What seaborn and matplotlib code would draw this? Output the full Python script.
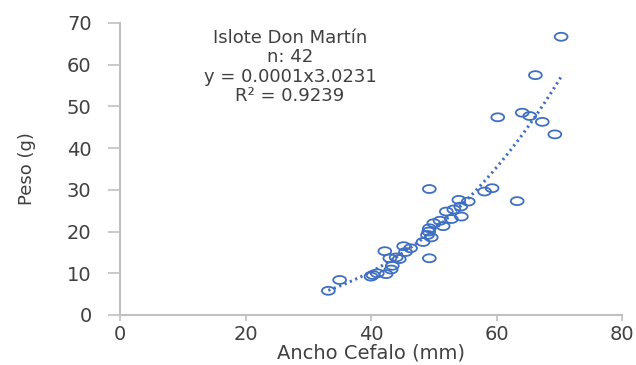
import numpy as np
import pandas as pd
import matplotlib
matplotlib.use("Agg")
import matplotlib.pyplot as plt
from matplotlib.path import Path
import seaborn as sns

# Head width (mm) and weight (g) of 42 individuals
ancho_cefalo = [33.2, 35.0, 40.0, 40.3, 41.0, 42.4, 43.2, 43.4, 42.2, 43.0,
                44.0, 44.5, 45.2, 45.5, 48.3, 49.3, 49.3, 49.0, 49.2, 49.3,
                49.6, 50.0, 51.0, 51.5, 52.0, 52.8, 54.0, 54.3, 54.4, 55.5,
                58.1, 59.3, 63.3, 60.2, 64.1, 65.3, 67.3, 69.3, 66.2, 70.3,
                53.2, 46.3]
peso = [5.8, 8.4, 9.2, 9.6, 10.0, 9.8, 10.9, 11.8, 15.3, 13.6,
        13.8, 13.4, 16.5, 15.1, 17.5, 13.6, 30.2, 19.2, 20.0, 20.8,
        18.6, 22.0, 22.6, 21.3, 24.8, 23.0, 27.6, 26.0, 23.6, 27.2,
        29.6, 30.4, 27.3, 47.4, 48.5, 47.7, 46.3, 43.3, 57.5, 66.7,
        25.3, 16.0]

# Power-law trend y = a * x^b
coef_a = 0.000149
coef_b = 3.0231
r2 = 0.9239
titulo = "Islote Don Martín"

x_ticks = [0, 20, 40, 60, 80]
y_ticks = [0, 10, 20, 30, 40, 50, 60, 70]

df = pd.DataFrame({"Ancho": ancho_cefalo, "Peso": peso})

sns.set_style("white")
plt.rcParams["font.family"] = ["DejaVu Sans"]

blue = "#3f6fc0"
grey_axis = "#c0c0c0"
text_col = "#404040"

fig = plt.figure(figsize=(6.36, 3.65), dpi=100)
ax = fig.add_axes([120 / 636, 1 - 315 / 365, 502 / 636, 292 / 365])

# slightly flattened open-circle marker
t = np.linspace(0, 2 * np.pi, 60)
ellipse = Path(np.column_stack([np.cos(t), 0.62 * np.sin(t)]), closed=True)

sns.scatterplot(data=df, x="Ancho", y="Peso", ax=ax, marker=ellipse, s=85,
                facecolors="none", edgecolor=blue, linewidth=1.3, legend=False)

xs = np.linspace(min(ancho_cefalo), max(ancho_cefalo), 200)
sns.lineplot(x=xs, y=coef_a * xs ** coef_b, ax=ax, color=blue, lw=2.2,
             linestyle=(0, (0.7, 1.2)), dash_capstyle="butt")

ax.set_xlim(0, 80)
ax.set_ylim(0, 70)
ax.set_xticks(x_ticks)
ax.set_yticks(y_ticks)
ax.tick_params(axis="both", which="both", width=1.2, color=grey_axis,
               labelsize=14, labelcolor=text_col, direction="out",
               left=True, bottom=True)
ax.tick_params(axis="x", length=4, pad=3)
ax.tick_params(axis="y", length=8.5, pad=12)

for side in ["top", "right"]:
    ax.spines[side].set_visible(False)
for side in ["left", "bottom"]:
    ax.spines[side].set_color(grey_axis)
    ax.spines[side].set_linewidth(1.5)

ax.set_xlabel("Ancho Cefalo (mm)", fontsize=14, color=text_col, labelpad=0)
ax.set_ylabel("Peso (g)", fontsize=13, color=text_col, labelpad=22)

label = (f"{titulo}\nn: {len(peso)}\n"
         f"y = {coef_a:.4f}x{coef_b:.4f}\nR² = {r2:.4f}")
fig.text(290 / 636, 1 - 29 / 365, label, ha="center", va="top",
         fontsize=13, color=text_col, linespacing=1.09)

fig.savefig("out.png", dpi=100)
